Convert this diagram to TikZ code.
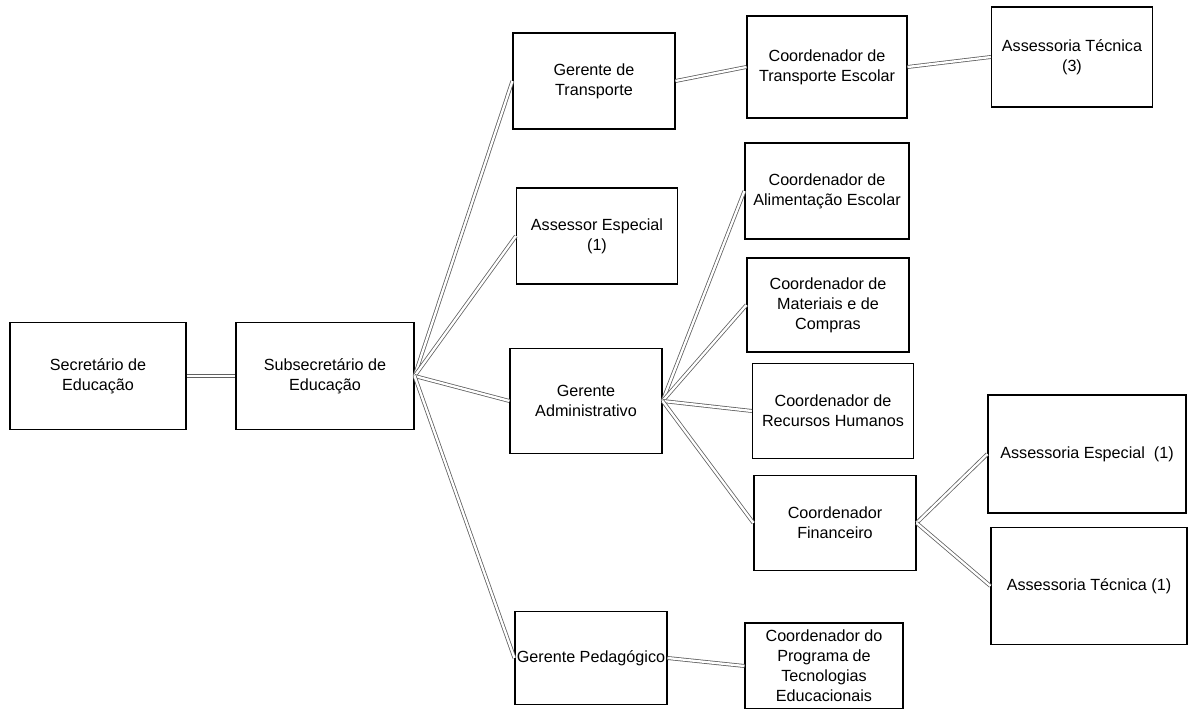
\documentclass[tikz,border=0pt]{standalone}
\usepackage{fontspec}
\setmainfont{Liberation Sans}
\usepackage{tikz}
\usetikzlibrary{positioning}

\begin{document}
\begin{tikzpicture}[node distance=4.6cm, on grid, auto,
   box/.style={draw, line width=0.65pt, align=center, inner sep=1pt,
      minimum width=3.2cm, minimum height=1.9cm,
      font=\fontsize{9.2}{11.4}\selectfont},
   link/.style={draw=gray!75!black, line width=0.45pt, double=white, double distance=1.3pt}]
   \useasboundingbox (-1.96,-6.66) rectangle (21.9,7.52);

   \node[box, minimum width=3.52cm, minimum height=2.14cm] (sec) {Secretário de\\Educação};
   \node[box, minimum width=3.56cm, minimum height=2.14cm, right=4.54cm of sec] (sub) {Subsecretário de\\Educação};

   \node[box, minimum width=3.24cm, minimum height=1.92cm, above right=5.9cm and 5.38cm of sub] (gtr) {Gerente de\\Transporte};
   \node[box, minimum width=3.22cm, minimum height=1.92cm, above right=2.8cm and 5.44cm of sub] (aesp) {Assessor Especial\\(1)};
   \node[box, minimum width=3.04cm, minimum height=2.1cm, below right=0.5cm and 5.22cm of sub] (gadm) {Gerente\\Administrativo};
   \node[box, minimum width=3.04cm, minimum height=1.86cm, below right=5.64cm and 5.32cm of sub] (gped) {Gerente Pedagógico};

   \node[box, minimum height=2.04cm, above right=0.28cm and 4.66cm of gtr] (cte) {Coordenador de\\Transporte Escolar};
   \node[box, minimum width=3.22cm, minimum height=2cm, above right=0.2cm and 4.9cm of cte] (at3) {Assessoria Técnica\\(3)};

   \node[box, minimum width=3.28cm, minimum height=1.92cm, above right=4.2cm and 4.82cm of gadm] (calim) {Coordenador de\\Alimentação Escolar};
   \node[box, minimum width=3.24cm, minimum height=1.88cm, above right=1.92cm and 4.84cm of gadm] (cmat) {Coordenador de\\Materiais e de\\Compras};
   \node[box, minimum width=3.22cm, below right=0.2cm and 4.94cm of gadm] (crh) {Coordenador de\\Recursos Humanos};
   \node[box, minimum width=3.24cm, below right=2.44cm and 4.98cm of gadm] (cfin) {Coordenador\\Financeiro};

   \node[box, minimum width=3.96cm, minimum height=2.36cm, above right=1.38cm and 5.04cm of cfin] (aesp1) {Assessoria Especial~ (1)};
   \node[box, minimum width=3.92cm, minimum height=2.34cm, below right=1.26cm and 5.08cm of cfin] (atec1) {Assessoria Técnica (1)};

   \node[box, minimum width=3.16cm, minimum height=1.72cm, below right=0.16cm and 4.66cm of gped] (cprog) {Coordenador do\\Programa de\\Tecnologias\\Educacionais};

   \path[every edge/.style=link]
    (sec) edge (sub)
    (sub.east) edge (gtr.west)
         edge (aesp.west)
         edge (gadm.west)
         edge (gped.west)
    (gtr.east) edge (cte.west)
    (cte.east) edge (at3.west)
    (gadm.east) edge (calim.west)
         edge (cmat.west)
         edge (crh.west)
         edge (cfin.west)
    (cfin.east) edge (aesp1.west)
         edge (atec1.west)
    (gped.east) edge (cprog.west);
\end{tikzpicture}
\end{document}
